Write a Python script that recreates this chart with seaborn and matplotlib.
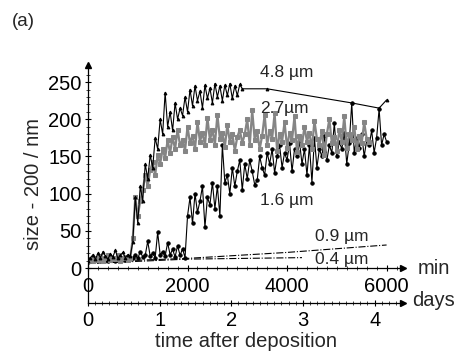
import numpy as np
import matplotlib
matplotlib.use("Agg")
import matplotlib.pyplot as plt
from matplotlib.ticker import MultipleLocator, FixedLocator
import seaborn as sns

# time grids (min), one measurement every 50 min
t48 = np.arange(0, 3100, 50)
t27 = np.arange(0, 5700, 50)
t16 = np.arange(0, 6050, 50)

# 4.8 um film
v48 = [10, 14, 18, 12, 20, 14, 22, 16, 12, 19, 15, 24, 13, 17, 21, 14, 18, 16, 35, 95,
       60, 110, 90, 140, 120, 152, 135, 175, 160, 200, 180, 236, 190, 210, 185, 222, 200, 215, 205, 230,
       210, 240, 218, 245, 225, 238, 215, 246, 228, 242, 222, 248, 230, 245, 225, 246, 232, 248, 228, 245,
       232, 247]
t48_tail = [3100, 3600, 5300, 5850, 6000]
v48_tail = [241, 241, 222, 215, 226]

# 2.7 um film
v27 = [10, 12, 9, 14, 11, 16, 10, 13, 18, 11, 14, 12, 17, 10, 13, 15, 11, 14,
       40, 95, 70, 90, 105, 125, 110, 132, 142, 125, 152, 140,
       160, 148, 172, 155, 176, 160, 186, 165, 172, 158,
       190, 168, 178, 160, 196, 170, 182, 165, 202, 172,
       186, 166, 206, 174, 182, 163, 192, 170, 180, 158,
       176, 186, 168, 180, 200, 165, 212, 172, 184, 160,
       178, 206, 166, 184, 174, 208, 158, 180, 170, 196,
       162, 182, 172, 204, 156, 178, 166, 190, 170, 182,
       160, 198, 174, 166, 184, 152, 180, 200, 168, 176,
       158, 186, 170, 204, 162, 180, 172, 190, 160, 178,
       168, 196, 174, 170]

# 1.6 um film
v16 = [8, 10, 9, 11, 10, 12, 9, 11, 10, 12, 11, 10, 12, 11, 13, 11, 12, 12,
       14, 18, 13, 22, 15, 17, 36, 16, 20, 14, 48, 18,
       22, 16, 34, 18, 25, 15, 30, 17, 26, 14,
       70, 95, 60, 100, 75, 90, 110, 55, 95, 85,
       115, 80, 110, 70, 165, 115, 125, 100, 135, 110,
       130, 145, 105, 140, 120, 145, 130, 112, 118, 150,
       135, 125, 155, 140, 160, 128, 150, 165, 135, 155,
       145, 168, 130, 160, 150, 170, 140, 160, 125, 165,
       115, 175, 135, 160, 150, 178, 145, 165, 155, 195,
       150, 170, 160, 182, 140, 168, 222, 155, 175, 162,
       180, 150, 172, 165, 185, 155, 175, 214, 165, 180,
       170]

# 0.9 um and 0.4 um films
t09 = [0, 2000, 4000, 6000]
v09 = [8, 13, 21, 31]
t04 = [0, 2000, 4300]
v04 = [6, 12, 14]

sns.set_style("ticks")
plt.rcParams["font.family"] = ["Liberation Sans", "DejaVu Sans"]

fig = plt.figure(figsize=(4.61, 3.54), dpi=100)
ax = fig.add_axes([88 / 461, 51 / 354, (403 - 88) / 461, (303 - 65) / 354])

sns.lineplot(x=t09, y=v09, ax=ax, color="black", lw=0.8, ls="-.")
sns.lineplot(x=t04, y=v04, ax=ax, color="black", lw=0.8, ls="-.")
sns.lineplot(x=t16, y=v16, ax=ax, color="black", lw=0.8, marker="o", ms=2.4,
             mec="black", estimator=None, sort=False)
sns.lineplot(x=t27, y=v27, ax=ax, color="#858585", lw=1.6, marker="s", ms=3,
             mec="#858585", estimator=None, sort=False)
sns.lineplot(x=list(t48) + t48_tail, y=v48 + v48_tail, ax=ax, color="black", lw=0.8,
             marker="^", ms=2, mec="black", estimator=None, sort=False)

ax.set_xlim(0, 6330)
ax.set_ylim(-47, 273)

for s in ["top", "right"]:
    ax.spines[s].set_visible(False)
ax.spines["bottom"].set_position(("data", 0))
ax.spines["left"].set_linewidth(0.9)
ax.spines["bottom"].set_linewidth(0.9)
ax.spines["left"].set_color("black")
ax.spines["bottom"].set_color("black")

ax.set_yticks([0, 50, 100, 150, 200, 250])
ax.yaxis.set_minor_locator(FixedLocator(np.arange(0, 271, 10)))
ax.set_xticks([0, 2000, 4000, 6000])
ax.xaxis.set_minor_locator(FixedLocator(np.arange(0, 6201, 200)))
ax.tick_params(axis="both", which="major", direction="inout", length=5, width=0.8,
               labelsize=14.5, colors="black")
ax.tick_params(axis="both", which="minor", direction="inout", length=3, width=0.6)
ax.tick_params(axis="y", pad=2)
ax.tick_params(axis="x", pad=4)

secax = ax.secondary_xaxis(0.0, functions=(lambda m: m / 1440, lambda d: d * 1440))
secax.set_xticks([0, 1, 2, 3, 4])
secax.xaxis.set_minor_locator(MultipleLocator(0.1))
secax.tick_params(axis="x", which="major", direction="inout", length=5, width=0.8,
                  labelsize=14.5, pad=3, colors="black")
secax.tick_params(axis="x", which="minor", direction="inout", length=3, width=0.6)
secax.spines["bottom"].set_linewidth(0.9)
secax.spines["bottom"].set_color("black")
secax.set_xlabel("time after deposition", fontsize=14.5, labelpad=2)

ax.set_ylabel("size - 200 / nm", fontsize=14.5, labelpad=4)

# axis arrows
ax.plot(1, 0, ">k", ms=5, transform=ax.get_yaxis_transform(), clip_on=False)
ax.plot(1, 0, ">k", ms=5, transform=ax.transAxes, clip_on=False)
ax.plot(0, 1, "^k", ms=5, transform=ax.transAxes, clip_on=False)

ax.text(1.048, 0, "min", transform=ax.get_yaxis_transform(), fontsize=14.5, va="center")
ax.text(1.03, 0.01, "days", transform=ax.transAxes, fontsize=14.5, va="center")

labels = ["4.8 µm", "2.7µm", "1.6 µm", "0.9 µm", "0.4 µm"]
lx = [3990, 3950, 3990, 5095, 5095]
ly = [263, 215, 91, 42, 11]
for s, x, y in zip(labels, lx, ly):
    ax.text(x, y, s, fontsize=12.5, ha="center", va="center")

fig.text(12 / 461, 1 - 22 / 354, "(a)", fontsize=13.5, va="center")

fig.savefig("out.png", dpi=100)
